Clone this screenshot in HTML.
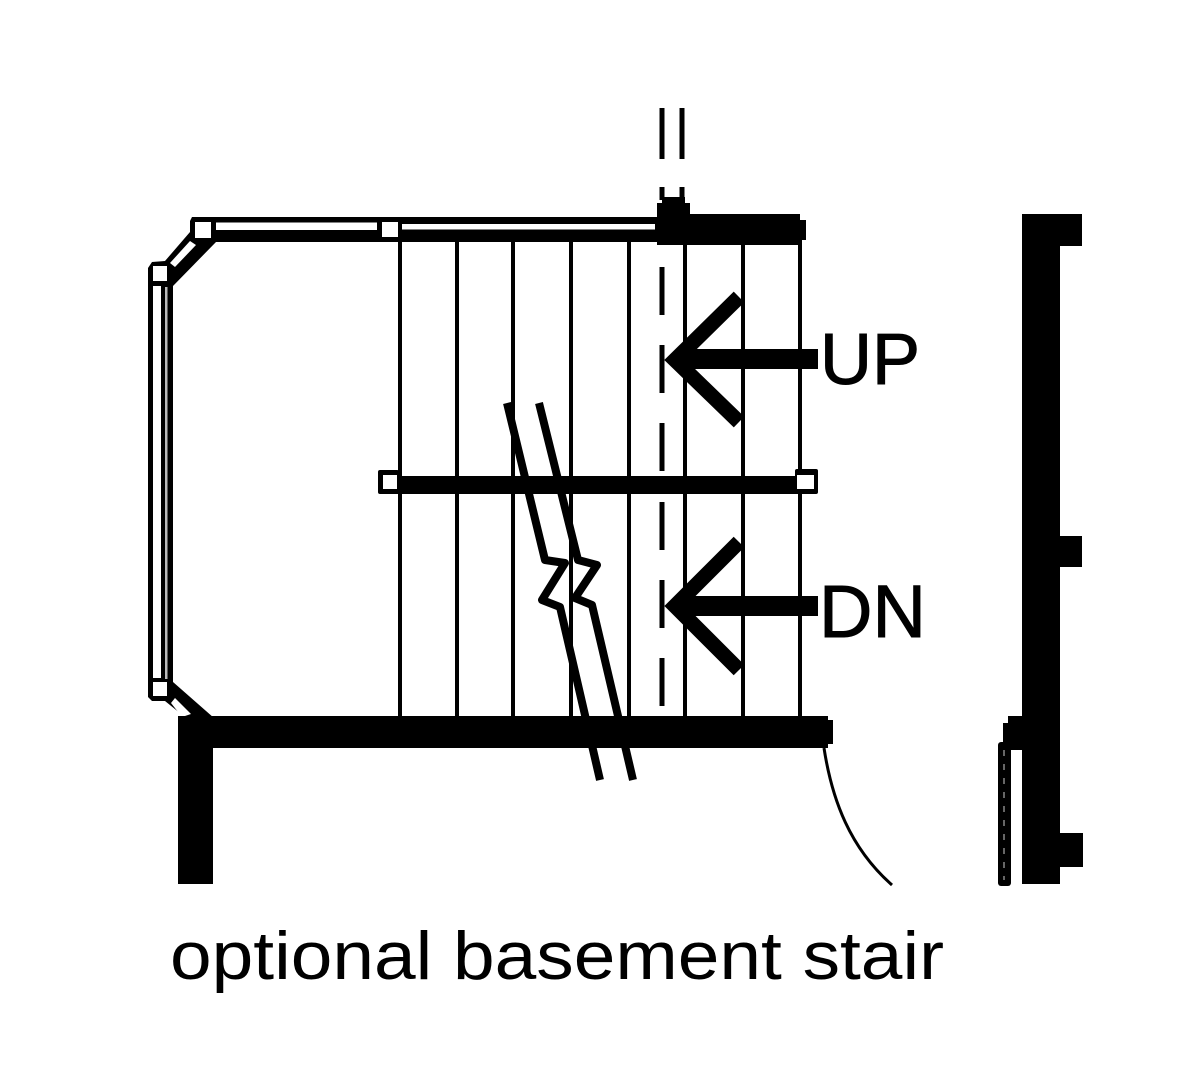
<!DOCTYPE html>
<html><head><meta charset="utf-8"><style>html,body{margin:0;padding:0;background:#fff}svg{display:block}</style></head>
<body>
<svg width="1200" height="1090" viewBox="0 0 1200 1090" xmlns="http://www.w3.org/2000/svg">
<rect width="1200" height="1090" fill="#fff"/>
<!-- treads -->
<path d="M400 240V718M457 240V718M513 240V718M571 240V718M629 240V718M685 240V718M743 240V718M800 240V718" fill="none" stroke="#000" stroke-width="4"/>
<!-- railing body -->
<polygon points="192,217 658,217 658,242 216,242 173,286 173,682 214,718 186,718 165,701 152,701 148,697 148,268 152,262 165,261 190,232 190,221" fill="#000"/>
<g fill="#fff">
<rect x="195" y="222" width="16" height="16"/>
<rect x="382" y="222" width="16" height="15"/>
<rect x="216" y="222.5" width="161" height="7.5"/>
<rect x="402" y="224" width="253" height="5.5"/>
<polygon points="170,263 190,241 196,245 175,267"/>
<rect x="153" y="266" width="14" height="15"/>
<rect x="153" y="286" width="8" height="392"/>
<rect x="165" y="287" width="2.5" height="392" fill="#bbb"/>
<rect x="153" y="682" width="14" height="14"/>
<polygon points="171,703 175,698 191,714 182,717"/>
</g>
<!-- centerline -->
<path d="M662 108V159M682 108V159M662 187V200M682 187V200" stroke="#000" stroke-width="5" fill="none"/>
<path d="M662 267V315M662 345V393M662 423V471M662 502V550M662 580V628M662 658V706" stroke="#000" stroke-width="5" fill="none"/>
<!-- walls -->
<g fill="#000">
<rect x="662" y="197" width="23" height="8"/>
<rect x="657" y="203" width="33" height="42"/>
<rect x="664" y="214" width="136" height="31"/>
<rect x="795" y="220" width="11" height="20"/>
<rect x="178" y="716" width="650" height="32"/>
<rect x="824" y="720" width="9" height="24"/>
<rect x="178" y="716" width="35" height="168"/>
<rect x="396" y="476" width="402" height="18"/>
<rect x="1022" y="214" width="38" height="670"/>
<rect x="1022" y="214" width="60" height="32"/>
<rect x="1022" y="536" width="60" height="31"/>
<rect x="1022" y="833" width="61" height="34"/>
<rect x="1008" y="716" width="16" height="10"/>
<rect x="1003" y="723" width="21" height="27"/>
<rect x="998" y="742" width="13" height="144" rx="3"/>
<rect x="378" y="470" width="21" height="24" rx="2"/>
<rect x="795" y="469" width="23" height="25" rx="2"/>
</g>
<rect x="383" y="475" width="14" height="14" fill="#fff"/>
<rect x="797" y="475" width="17" height="14" fill="#fff"/>
<path d="M1004 750V880" stroke="#888" stroke-width="1.5" stroke-dasharray="6 8" fill="none"/>
<!-- arrows -->
<g fill="none" stroke="#000">
<path d="M680 359H818M680 606H818" stroke-width="20"/>
<path d="M739 297L675 360L739 422M739 542L675 606L739 670" stroke-width="15"/>
<!-- break lines -->
<path d="M507 403L545 560L565 563L542 600L560 607L600 780" stroke-width="8" stroke-linejoin="round"/>
<path d="M539 403L578 560L597 565L575 598L592 605L633 780" stroke-width="8" stroke-linejoin="round"/>
<path d="M824 748C832 800 850 848 892 885" stroke-width="3"/>
</g>
<polygon points="667,360 686,344 686,376" fill="#000"/>
<polygon points="667,606 686,590 686,622" fill="#000"/>
<g font-family="'Liberation Sans',sans-serif" fill="#000">
<text x="820" y="384" font-size="72" stroke="#000" stroke-width="1">UP</text>
<text x="819" y="637" font-size="74" stroke="#000" stroke-width="1">DN</text>
<text x="170" y="979" font-size="68" textLength="774" lengthAdjust="spacingAndGlyphs">optional basement stair</text>
</g>
</svg>
</body></html>
